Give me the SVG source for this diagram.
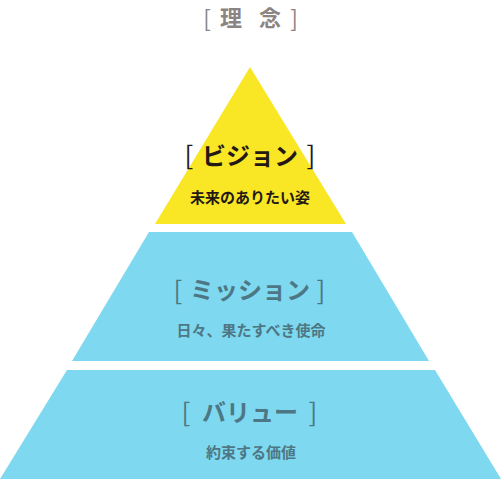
<svg xmlns="http://www.w3.org/2000/svg" width="501" height="479" viewBox="0 0 501 479">
<style>
.t{font-family:"Noto Sans CJK JP","Noto Sans",sans-serif;text-anchor:middle}
.b{font-weight:400}
.h{font-weight:700;font-size:24px}
.s{font-weight:700;font-size:15px}
.v{fill:#231815}
.m{fill:#4d7784}
.g{fill:#8a8584}
</style>
<rect width="501" height="479" fill="#ffffff"/>
<g id="title">
<text class="t g b" x="207" y="26.5" font-size="22.5">[</text>
<text class="t g" x="231" y="25.5" font-size="22" font-weight="700">理</text>
<text class="t g" x="270" y="25.5" font-size="22" font-weight="700">念</text>
<text class="t g b" x="294" y="26.5" font-size="22.5">]</text>
</g>
<g id="vision">
<polygon points="250,67 346,224 155,224" fill="#f9e625"/>
<text class="t v b" x="189" y="165" font-size="26">[</text>
<text class="t v h" x="250" y="165">ビジョン</text>
<text class="t v b" x="311" y="165" font-size="26">]</text>
<text class="t v s" x="250" y="203" font-size="16">未来のありたい姿</text>
</g>
<g id="mission">
<polygon points="149,232 352,232 429,361 72,361" fill="#7ed8f0"/>
<text class="t m b" x="178" y="300" font-size="26">[</text>
<text class="t m h" x="250" y="299">ミッション</text>
<text class="t m b" x="321" y="300" font-size="26">]</text>
<text class="t m s" x="251" y="336">日々、果たすべき使命</text>
</g>
<g id="value">
<polygon points="67,370 435,370 501,479 0,479" fill="#7ed8f0"/>
<text class="t m b" x="186" y="422" font-size="26">[</text>
<text class="t m h" x="250" y="421">バリュー</text>
<text class="t m b" x="313" y="422" font-size="26">]</text>
<text class="t m s" x="251" y="458" font-size="15.5">約束する価値</text>
</g>
<g id="connectors"></g>
</svg>
